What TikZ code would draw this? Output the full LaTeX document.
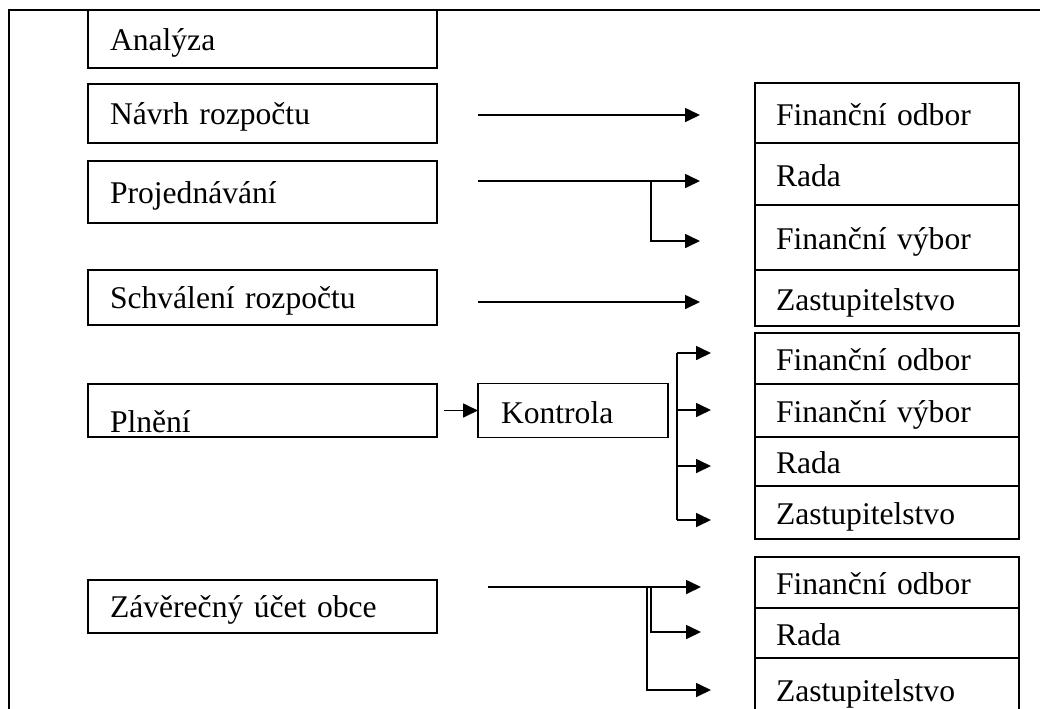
\documentclass[tikz,border=0pt]{standalone}
\usepackage{fontspec}
\setmainfont{Liberation Serif}
\usetikzlibrary{arrows.meta}

\begin{document}
  \begin{tikzpicture}[x=0.5pt, y=-0.5pt, line width=0.85pt,
      krok/.style={draw, outer sep=0pt, inner ysep=0pt, align=left,
        font=\fontsize{15.8}{18}\selectfont, text height=14pt, text depth=3pt},
      levy/.style={krok, text width=152.5pt, inner xsep=11pt},
      pravy/.style={krok, text width=111pt, inner xsep=10.5pt, text height=15pt},
      sipka/.style={-{Triangle[length=7.5pt, width=7pt]}}]
    \useasboundingbox (0,0) rectangle (1040,708);
    \clip (0,0) rectangle (1040,708);

    % Rámeček
    \draw (9,730) -- (9,10) -- (1060,10);

    % Levý sloupec: etapy rozpočtu
    \node[levy, minimum height=29pt] (analyza) at (262.5,39) {Analýza};
    \node[levy, minimum height=29.5pt] (navrh) at (262.5,113.5) {Návrh rozpočtu};
    \node[levy, minimum height=31pt] (projednavani) at (262.5,192) {Projednávání};
    \node[levy, minimum height=27.5pt] (schvaleni) at (262.5,297.5) {Schválení rozpočtu};
    \node[levy, minimum height=26.5pt, text height=24pt, text depth=2pt]
      (plneni) at (262.5,410.5) {Plnění};
    \node[levy, minimum height=26.5pt] (zaverecny) at (262.5,606.5) {Závěrečný účet obce};
    \node[krok, text width=72pt, inner xsep=11.5pt, text height=15.5pt,
      minimum height=27pt] (kontrola) at (573,410.5) {Kontrola};

    % Pravý sloupec: orgány obce
    \node[pravy, minimum height=30pt] (odbor1) at (887,113) {Finanční odbor};
    \node[pravy, minimum height=31pt] (rada1) at (887,174) {Rada};
    \node[pravy, minimum height=32.5pt] (vybor1) at (887,237.5) {Finanční výbor};
    \node[pravy, minimum height=28pt] (zastup1) at (887,298) {Zastupitelstvo};

    \node[pravy, minimum height=25.5pt] (odbor2) at (887,358.5) {Finanční odbor};
    \node[pravy, minimum height=26.5pt] (vybor2) at (887,410.5) {Finanční výbor};
    \node[pravy, minimum height=24.5pt] (rada2) at (887,461.5) {Rada};
    \node[pravy, minimum height=26.5pt] (zastup2) at (887,512.5) {Zastupitelstvo};

    \node[pravy, minimum height=25.5pt] (odbor3) at (887,582.5) {Finanční odbor};
    \node[pravy, minimum height=25pt] (rada3) at (887,633) {Rada};
    \node[pravy, minimum height=31pt] (zastup3) at (887,689) {Zastupitelstvo};

    % Body šipek
    \coordinate (navrhZ) at (478,115);
    \coordinate (navrhK) at (700,115);
    \coordinate (projZ) at (478,181);
    \coordinate (projK) at (700,181);
    \coordinate (projV) at (651,181);
    \coordinate (projK2) at (700,241);
    \coordinate (schvZ) at (478,302);
    \coordinate (schvK) at (700,302);
    \coordinate (kontrolaV) at (677,353);
    \coordinate (kontrolaV2) at (677,520);
    \coordinate (zavZ) at (488,587);
    \coordinate (zavK) at (701,587);

    % Šipky
    \draw[sipka] (navrhZ) -- (navrhK);
    \draw[sipka] (projZ) -- (projK);
    \draw[sipka] (projV) |- (projK2);
    \draw[sipka] (schvZ) -- (schvK);
    \draw[sipka] ([xshift=3.5pt]plneni.east) -- (kontrola.west);

    % Kontrola -> orgány
    \draw (kontrolaV) -- (kontrolaV2);
    \draw[sipka] (kontrolaV) -- (711,353);
    \draw[sipka] (677,410) -- (711,410);
    \draw[sipka] (677,466) -- (711,466);
    \draw[sipka] (kontrolaV2) -- (711,520);

    % Závěrečný účet -> orgány
    \draw[sipka] (zavZ) -- (zavK);
    \draw[sipka] (651,587) |- (701,632);
    \draw[sipka] (647,587) |- (711,690);
  \end{tikzpicture}
\end{document}
